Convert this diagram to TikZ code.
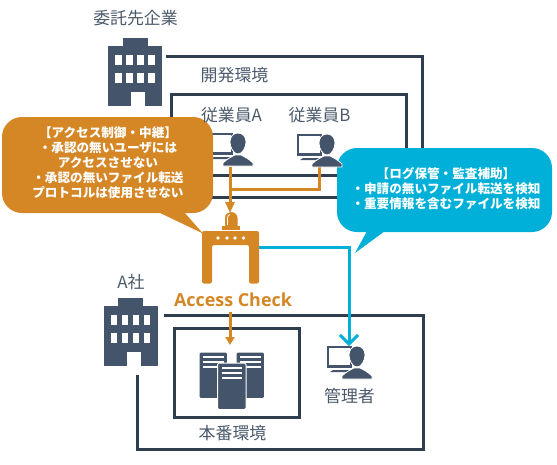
\documentclass[tikz,border=0pt]{standalone}
\usepackage{fontspec}
\setmainfont{Noto Sans CJK JP}
\newfontfamily\latinbold{Open Sans}
\usetikzlibrary{arrows.meta}
\definecolor{icon}{HTML}{44546A}
\definecolor{frame}{HTML}{2F3E4E}
\definecolor{orangeC}{HTML}{D58625}
\definecolor{cyanC}{HTML}{00B0D8}
\definecolor{txtgray}{HTML}{4B5A6B}
\tikzset{
  x=1pt,y=-1pt,
  framepath/.style={draw=frame,line width=3pt,line join=miter},
  orangeline/.style={draw=orangeC,line width=3pt,line join=round},
  orangearrow/.style={orangeline,-{Triangle[length=11pt,width=9pt]}},
  orangearrowsmall/.style={orangeline,-{Triangle[length=8pt,width=9pt]}},
  cyanarrow/.style={draw=cyanC,line width=3pt,line join=miter,-{Straight Barb[length=9pt,width=18pt]}},
  label/.style={text=txtgray,inner sep=0pt,font=\fontsize{16.9}{18}\selectfont},
  bubbletext/.style={text=white,inner sep=0pt,align=center,font=\fontsize{12.6}{15.1}\selectfont\bfseries},
  monitor/.pic={
    \draw[icon,line width=2.4pt,fill=white] (-29,-10) rectangle (-6,10);
    \fill[icon] (-29,8) rectangle (-6,11);
    \fill[icon] (-24,13) -- (-7,13) -- (-7,15) -- (-27,15) -- cycle;
  },
  person/.pic={
    \fill[icon,draw=white,line width=.8pt] (0,-11) .. controls (5,-11) and (8,-7) .. (8,-2)
      .. controls (8,4) and (4,10) .. (0,10) .. controls (-4,10) and (-8,4) .. (-8,-2)
      .. controls (-8,-7) and (-5,-11) .. (0,-11) -- cycle;
    \fill[icon,draw=white,line width=.8pt] (-15,22) -- (-15,19) .. controls (-11,15) and (-7,13) .. (-3,11)
      -- (3,11) .. controls (7,13) and (11,15) .. (15,19) -- (15,22) -- cycle;
  },
  building/.pic={
    \fill[icon] (14.5,-8) rectangle (39.5,0);
    \fill[icon] (0,0) rectangle (54,60);
    \fill[white] (23,46) rectangle (37,60);
    \foreach \yy in {9,27}{\foreach \xx in {7,18,29,40}{\fill[white] (\xx,\yy) rectangle ++(6.5,9.5);}}
  },
  serverbox/.pic={
    \fill[icon,draw=white,line width=1pt,rounded corners=1.5pt] (0,0) rectangle (28.5,46.5);
    \foreach \yy in {5,10,15}{\draw[white,line width=1.2pt] (4,\yy) -- (24.5,\yy);}
  }
}
\begin{document}
\begin{tikzpicture}
\useasboundingbox (0,0) rectangle (557,464);
% frames
\draw[framepath] (166,56.5) -- (422.5,56.5) -- (422.5,197) -- (136,197);
\draw[framepath] (171,94) rectangle (406,175);
\draw[framepath] (164,315) -- (423,315) -- (423,449) -- (137,449) -- (137,375);
\draw[framepath] (174,328) rectangle (299,417);
% buildings
\pic at (108,46) {building};
\pic at (103.5,306) {building};
% monitors
\pic at (238,144) {monitor};
\pic at (327,145) {monitor};
\pic at (357,357) {monitor};
% named points
\coordinate (empA) at (230,167);
\coordinate (bell) at (230,213);
\coordinate (junction) at (230,189);
\coordinate (empB) at (319,167);
\coordinate (gateR) at (259,247);
\coordinate (adminIn) at (349,346);
\coordinate (gateOut) at (230,312);
\coordinate (prodIn) at (230,345);
% connectors
\draw[orangeline,line join=miter] (junction) -- (empB |- junction) -- (empB);
\draw[orangearrow] (empA) -- (bell);
\draw[orangearrowsmall] (gateOut) -- (prodIn);
% bubbles
\fill[orangeC,rounded corners=20pt] (2,117) rectangle (213,213);
\fill[orangeC] (158,212) -- (184,212) -- (203,233.5) -- cycle;
\fill[cyanC,rounded corners=20pt] (337,148) rectangle (552,232);
\fill[cyanC] (367,231) -- (385,231) -- (355,253) -- cycle;
% persons
\pic at (238,144) {person};
\pic at (327,145) {person};
\pic at (357,357) {person};
% cyan connector over the administrator's monitor
\draw[cyanarrow] (gateR) -| (adminIn);
% gate
\fill[orangeC,rounded corners=2pt] (202,283.5) -- (202,231) -- (259,231) -- (259,283.5) -- (249,283.5) -- (249,245) -- (212,245) -- (212,283.5) -- cycle;
\fill[orangeC] (222,225.5) rectangle (239.5,230);
\fill[orangeC] (225,226) -- (225,218) .. controls (225,214) and (228,212) .. (231,212) .. controls (234,212) and (237.5,214) .. (237.5,218) -- (237.5,226) -- cycle;
\draw[white,line width=.8pt] (227.5,225) -- (227.5,218) .. controls (227.5,216) and (228.5,215) .. (230,214.5);
\foreach \xx in {218,227,235,243.5}{\fill[white] (\xx,238) circle (1.9);}
% servers
\pic at (199,352) {serverbox};
\pic at (236,352) {serverbox};
\pic at (217.5,363) {serverbox};
% texts
\node[label] (itaku) at (135.5,18) {委託先企業};
\node[label] (kaihatsu) at (234.5,75) {開発環境};
\node[label] (juA) at (231.5,115) {従業員A};
\node[label] (juB) at (319.5,115) {従業員B};
\node[label] (asha) at (131,282) {A社};
\node[label] (honban) at (232.5,433) {本番環境};
\node[label] (kanri) at (349.5,396) {管理者};
\node[text=orangeC,inner sep=0pt,font=\fontsize{17.9}{20}\latinbold\selectfont\bfseries] (ac) at (233,300) {Access Check};
\node[bubbletext] (orangeText) at (108,163) {【アクセス制御・中継】\\・承認の無いユーザには\\アクセスさせない\\・承認の無いファイル転送\\プロトコルは使用させない};
\node[bubbletext] (cyanText) at (446,189) {【ログ保管・監査補助】\\・申請の無いファイル転送を検知\\・重要情報を含むファイルを検知};
\end{tikzpicture}
\end{document}
